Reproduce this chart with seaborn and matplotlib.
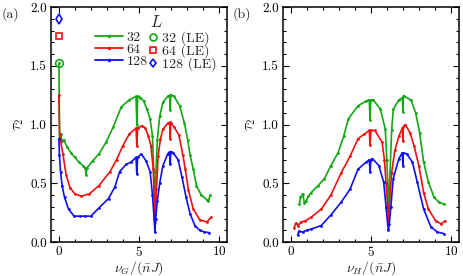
import numpy as np
import pandas as pd
import matplotlib
matplotlib.use("Agg")
import matplotlib.pyplot as plt
from matplotlib.lines import Line2D
from matplotlib.ticker import MultipleLocator
import seaborn as sns

# ---------------- data ----------------
# panel (a): tau_2 vs nu_G/(nbar J)
xa32 = [0.0, 0.04, 0.1, 0.2, 0.3, 0.5, 0.75, 1.0, 1.25, 1.5, 1.65, 1.7, 1.75, 2.1, 2.5, 2.95,
        3.4, 3.9, 4.4, 4.82, 4.87, 4.92, 5.1, 5.3, 5.5, 5.7, 5.85, 5.93, 6.0, 6.07, 6.15, 6.3,
        6.5, 6.8, 6.93, 6.96, 6.99, 7.2, 7.55, 7.85, 8.05, 8.2, 8.4, 8.6, 8.9, 9.25, 9.35, 9.45]
ya32 = [1.52, 0.88, 0.92, 0.86, 0.87, 0.81, 0.76, 0.72, 0.68, 0.65, 0.63, 0.57, 0.63, 0.69, 0.75, 0.85,
        0.98, 1.15, 1.21, 1.24, 1.00, 1.24, 1.23, 1.20, 1.13, 1.05, 0.90, 0.60, 0.30, 0.60, 0.87, 1.07,
        1.19, 1.24, 1.25, 1.12, 1.25, 1.24, 1.16, 1.01, 0.87, 0.74, 0.62, 0.48, 0.40, 0.36, 0.35, 0.40]

xa64 = [0.0, 0.04, 0.1, 0.25, 0.45, 0.7, 1.0, 1.4, 1.9, 2.5, 3.2, 3.6, 4.0, 4.4, 4.82, 4.87, 4.92,
        5.2, 5.4, 5.6, 5.75, 5.9, 6.0, 6.1, 6.2, 6.35, 6.5, 6.8, 6.93, 6.96, 6.99, 7.2, 7.5, 7.75,
        7.9, 8.1, 8.4, 8.8, 9.25, 9.5]
ya64 = [1.25, 0.92, 0.86, 0.75, 0.57, 0.46, 0.41, 0.39, 0.41, 0.48, 0.60, 0.70, 0.82, 0.92, 0.97, 0.82, 0.97,
        0.99, 0.97, 0.90, 0.82, 0.62, 0.17, 0.45, 0.73, 0.88, 0.96, 1.01, 1.02, 0.88, 1.01, 0.98, 0.91, 0.74,
        0.62, 0.44, 0.28, 0.19, 0.17, 0.21]

xa128 = [0.0, 0.03, 0.1, 0.2, 0.35, 0.6, 0.95, 1.3, 1.6, 2.0, 2.5, 3.1, 3.5, 3.8, 4.2, 4.5, 4.82, 4.87,
         4.92, 5.15, 5.45, 5.7, 5.85, 5.95, 6.0, 6.05, 6.15, 6.3, 6.5, 6.8, 6.93, 6.96, 6.99, 7.15,
         7.45, 7.7, 7.95, 8.2, 8.5, 8.8, 9.1, 9.4]
ya128 = [0.88, 0.74, 0.60, 0.48, 0.38, 0.28, 0.22, 0.22, 0.22, 0.22, 0.29, 0.37, 0.47, 0.60, 0.66, 0.68, 0.72, 0.58,
         0.72, 0.75, 0.69, 0.60, 0.40, 0.20, 0.085, 0.20, 0.35, 0.50, 0.65, 0.75, 0.77, 0.66, 0.77, 0.76,
         0.70, 0.55, 0.38, 0.24, 0.14, 0.10, 0.085, 0.08]

# LE values at nu_G = 0
le_x = [0.0, 0.0, 0.0]
le_y = [1.52, 1.75, 1.90]

# panel (b): tau_2 vs nu_H/(nbar J)
xb32 = [0.53, 0.6, 0.74, 0.85, 0.95, 1.1, 1.26, 1.7, 2.1, 2.5, 2.95, 3.3, 3.6, 4.2, 4.7, 4.9, 4.95, 5.0,
        5.15, 5.6, 5.9, 6.0, 6.1, 6.2, 6.3, 6.4, 6.75, 6.97, 7.0, 7.03, 7.1, 7.5, 7.8, 8.05, 8.3, 8.6,
        8.95, 9.25, 9.6]
yb32 = [0.32, 0.38, 0.41, 0.33, 0.35, 0.39, 0.42, 0.48, 0.54, 0.65, 0.76, 0.90, 1.05, 1.16, 1.20, 1.21, 1.04, 1.21,
        1.21, 1.13, 0.96, 0.70, 0.31, 0.60, 0.95, 1.13, 1.21, 1.23, 1.11, 1.24, 1.24, 1.21, 1.10, 0.93, 0.68, 0.51,
        0.38, 0.34, 0.32]

xb64 = [0.2, 0.3, 0.45, 0.63, 0.9, 1.26, 1.9, 2.5, 3.15, 3.7, 4.2, 4.6, 4.9, 4.95, 5.0, 5.25, 5.7, 5.85,
        5.95, 6.05, 6.1, 6.15, 6.3, 6.5, 6.75, 6.97, 7.0, 7.03, 7.15, 7.45, 7.7, 8.0, 8.3, 8.6, 9.05,
        9.4, 9.65]
yb64 = [0.12, 0.16, 0.14, 0.17, 0.18, 0.21, 0.28, 0.40, 0.59, 0.73, 0.88, 0.92, 0.95, 0.83, 0.95, 0.95, 0.85, 0.70,
        0.50, 0.30, 0.18, 0.30, 0.59, 0.78, 0.90, 0.97, 0.86, 0.98, 1.00, 0.93, 0.82, 0.65, 0.42, 0.28, 0.18,
        0.155, 0.18]

xb128 = [0.42, 0.5, 0.74, 1.0, 1.26, 1.9, 2.5, 3.15, 3.7, 4.2, 4.7, 4.9, 4.95, 5.0, 5.1, 5.5, 5.8, 5.95,
         6.05, 6.1, 6.15, 6.25, 6.4, 6.75, 6.97, 7.0, 7.03, 7.25, 7.6, 7.9, 8.3, 8.75, 9.15, 9.6]
yb128 = [0.06, 0.09, 0.085, 0.10, 0.11, 0.14, 0.23, 0.34, 0.45, 0.62, 0.68, 0.70, 0.60, 0.70, 0.71, 0.65, 0.51, 0.30,
         0.15, 0.10, 0.15, 0.30, 0.54, 0.71, 0.76, 0.65, 0.76, 0.75, 0.68, 0.51, 0.28, 0.13, 0.085, 0.07]

sizes = ["32", "64", "128"]
le_labels = ["32 (LE)", "64 (LE)", "128 (LE)"]
colors = ["#13a813", "#f01010", "#1010f0"]
le_markers = ["o", "s", "d"]

# ---------------- style ----------------
sns.set_style("ticks")
plt.rcParams["font.family"] = ["cmr10", "DejaVu Serif"]
plt.rcParams["mathtext.fontset"] = "cm"
plt.rcParams["axes.formatter.use_mathtext"] = True
plt.rcParams["axes.unicode_minus"] = False
plt.rcParams["axes.edgecolor"] = "black"
plt.rcParams["axes.linewidth"] = 1.1


def long_df(xs, ys):
    frames = []
    for lab, x, y in zip(sizes, xs, ys):
        frames.append(pd.DataFrame({"x": x, "tau": y, "L": lab}))
    return pd.concat(frames, ignore_index=True)


dfa = long_df([xa32, xa64, xa128], [ya32, ya64, ya128])
dfb = long_df([xb32, xb64, xb128], [yb32, yb64, yb128])
dfle = pd.DataFrame({"x": le_x, "tau": le_y, "L": le_labels})

fig = plt.figure(figsize=(4.63, 2.76), dpi=100)
axA = fig.add_axes([0.110, 0.1232, 0.380, 0.851])
axB = fig.add_axes([0.611, 0.1232, 0.380, 0.851])

pal = dict(zip(sizes, colors))
for ax, df in ((axA, dfa), (axB, dfb)):
    sns.lineplot(data=df, x="x", y="tau", hue="L", palette=pal, estimator=None, sort=False,
                 units="L", linewidth=1.2, marker="o", markersize=2.0, markeredgewidth=0,
                 legend=False, ax=ax)

for lab, mk, c in zip(le_labels, le_markers, colors):
    sub = dfle[dfle["L"] == lab]
    axA.plot(sub["x"], sub["tau"], linestyle="none", marker=mk,
             markersize={"o": 5.5, "s": 5.0, "d": 4.6}[mk],
             markerfacecolor="none", markeredgecolor=c, markeredgewidth=1.2, zorder=5)

for ax, xl in ((axA, r"$\nu_G/(\bar{n}J)$"), (axB, r"$\nu_H/(\bar{n}J)$")):
    ax.set_xlim(-0.5, 10.5)
    ax.set_ylim(0, 2.0)
    ax.xaxis.set_major_locator(MultipleLocator(5))
    ax.xaxis.set_minor_locator(MultipleLocator(1))
    ax.yaxis.set_minor_locator(MultipleLocator(0.1))
    ax.set_yticks([0, 0.5, 1.0, 1.5, 2.0])
    ax.set_yticklabels(["0.0", "0.5", "1.0", "1.5", "2.0"])
    ax.tick_params(which="both", direction="in", top=True, right=True, labelsize=9.5,
                   colors="black", width=0.8)
    ax.tick_params(which="major", length=4)
    ax.tick_params(which="minor", length=2)
    ax.tick_params(axis="x", which="major", pad=2)
    ax.tick_params(axis="y", which="major", pad=3)
    ax.set_xlabel(xl, fontsize=10, labelpad=0.5)
    ax.set_ylabel(r"$\tau_2$", fontsize=11, labelpad=3)
    for s in ax.spines.values():
        s.set_visible(True)
        s.set_color("black")

# legend
h_lines = [Line2D([], [], color=c, lw=1.3, marker="o", ms=2.5, mew=0) for c in colors]
h_mk = [Line2D([], [], color=c, ls="none", marker=m, ms={"o": 5.0, "s": 4.8, "d": 4.4}[m],
               mfc="none", mec=c, mew=1.2) for c, m in zip(colors, le_markers)]
leg1 = axA.legend(h_lines, sizes, loc="upper left", bbox_to_anchor=(0.25, 0.898), frameon=False,
                  handlelength=2.0, handletextpad=0.3, labelspacing=-0.06, borderpad=0,
                  borderaxespad=0, fontsize=10)
axA.add_artist(leg1)
axA.legend(h_mk, le_labels, loc="upper left", bbox_to_anchor=(0.548, 0.898), frameon=False,
           handlelength=0.8, handletextpad=0.28, labelspacing=-0.06, borderpad=0,
           borderaxespad=0, fontsize=10)
axA.text(0.597, 0.936, r"$L$", transform=axA.transAxes, ha="center", va="center", fontsize=12)

fig.text(0.004, 0.975, "(a)", ha="left", va="top", fontsize=10)
fig.text(0.503, 0.975, "(b)", ha="left", va="top", fontsize=10)

fig.savefig("out.png", dpi=100)
